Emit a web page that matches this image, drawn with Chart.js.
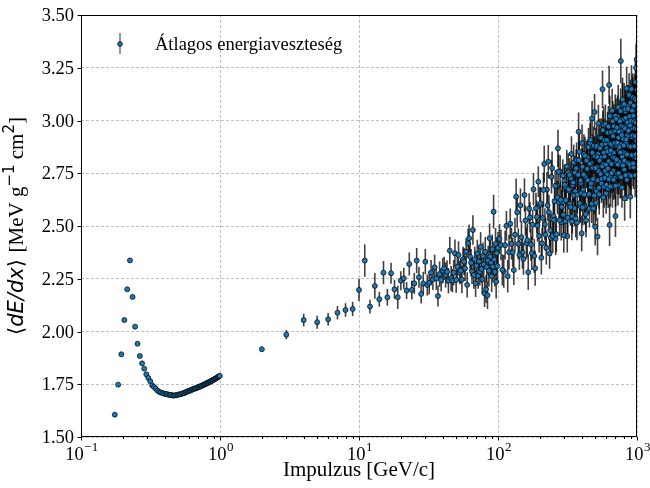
<!DOCTYPE html>
<html>
<head>
<meta charset="utf-8">
<script src="https://cdn.jsdelivr.net/npm/chart.js"></script>
<style>
    html, body { margin: 0; padding: 0; background: #fff; }
    #wrap { width: 650px; height: 488px; }
</style>
</head>
<body>
<div id="wrap"><canvas id="chart" width="650" height="488"></canvas></div>
<script>
// low momentum: 0.175 .. 0.995 GeV/c
const lowMomentum = [
    0.175,0.185,0.195,0.205,0.215,0.225,0.235,0.245,0.255,0.265,
    0.275,0.285,0.295,0.305,0.315,0.325,0.335,0.345,0.355,0.365,
    0.375,0.385,0.395,0.405,0.415,0.425,0.435,0.445,0.455,0.465,
    0.475,0.485,0.495,0.505,0.515,0.525,0.535,0.545,0.555,0.565,
    0.575,0.585,0.595,0.605,0.615,0.625,0.635,0.645,0.655,0.665,
    0.675,0.685,0.695,0.705,0.715,0.725,0.735,0.745,0.755,0.765,
    0.775,0.785,0.795,0.805,0.815,0.825,0.835,0.845,0.855,0.865,
    0.875,0.885,0.895,0.905,0.915,0.925,0.935,0.945,0.955,0.965,
    0.975,0.985,0.995
];
const lowLoss = [
    1.606,1.748,1.892,2.054,2.200,2.337,2.164,2.023,1.942,1.884,
    1.849,1.824,1.797,1.780,1.764,1.745,1.737,1.729,1.720,1.714,
    1.711,1.708,1.706,1.703,1.704,1.700,1.699,1.700,1.697,1.696,
    1.698,1.698,1.700,1.701,1.703,1.703,1.706,1.708,1.708,1.712,
    1.714,1.716,1.718,1.720,1.720,1.724,1.726,1.727,1.729,1.731,
    1.731,1.734,1.736,1.738,1.738,1.741,1.743,1.743,1.746,1.748,
    1.750,1.750,1.753,1.755,1.757,1.757,1.760,1.762,1.765,1.764,
    1.767,1.770,1.770,1.773,1.775,1.777,1.777,1.780,1.782,1.784,
    1.786,1.788,1.790
];
const lowErr = [
    .004,.004,.005,.005,.006,.006,.006,.005,.005,.005,
    .004,.004,.004,.004,.004,.004,.004,.004,.004,.004,
    .004,.004,.004,.004,.004,.004,.004,.004,.004,.004,
    .004,.004,.004,.004,.004,.004,.004,.004,.005,.005,
    .005,.005,.005,.005,.005,.005,.005,.005,.005,.005,
    .005,.005,.005,.005,.005,.005,.005,.005,.005,.005,
    .005,.005,.005,.006,.006,.006,.006,.006,.006,.006,
    .006,.006,.006,.006,.006,.006,.006,.006,.006,.006,
    .006,.006,.006
];

// 2 .. 100 GeV/c
const midMomentum = [
    2,3,4,5,6,7,8,9,
    10,11,12,13,14,15,16,17,18,19,
    20,21,22,23,24,25,26,27,28,29,
    30,31,32,33,34,35,36,37,38,39,
    40,41,42,43,44,45,46,47,48,49,
    50,51,52,53,54,55,56,57,58,59,
    60,61,62,63,64,65,66,67,68,69,
    70,71,72,73,74,75,76,77,78,79,
    80,81,82,83,84,85,86,87,88,89,
    90,91,92,93,94,95,96,97,98,99,
    100
];
const midLoss = [
    1.916,1.985,2.054,2.044,2.058,2.089,2.102,2.107,
    2.197,2.336,2.118,2.216,2.153,2.279,2.162,2.276,2.200,2.162,
    2.241,2.252,2.194,2.320,2.197,2.228,2.336,2.257,2.178,2.228,
    2.331,2.220,2.231,2.279,2.247,2.304,2.252,2.168,2.272,2.244,
    2.288,2.299,2.268,2.283,2.241,2.383,2.252,2.241,2.279,2.371,
    2.244,2.307,2.363,2.279,2.288,2.246,2.342,2.331,2.299,2.378,
    2.221,2.418,2.442,2.355,2.326,2.285,2.481,2.268,2.342,2.228,
    2.311,2.370,2.263,2.332,2.283,2.401,2.296,2.248,2.357,2.318,
    2.181,2.378,2.200,2.305,2.172,2.336,2.288,2.442,2.355,2.326,
    2.262,2.390,2.307,2.568,2.341,2.283,2.415,2.236,2.372,2.310,
    2.396
];
const midErr = [
    .012,.022,.030,.031,.030,.032,.032,.034,
    .053,.077,.033,.061,.035,.055,.040,.050,.045,.055,
    .045,.050,.040,.055,.045,.050,.060,.050,.045,.055,
    .060,.050,.055,.060,.050,.060,.055,.050,.060,.055,
    .060,.055,.060,.055,.060,.065,.060,.055,.060,.065,
    .060,.060,.065,.055,.060,.065,.060,.065,.060,.065,
    .060,.070,.065,.070,.065,.060,.070,.065,.060,.065,
    .070,.065,.060,.070,.065,.070,.065,.070,.065,.070,
    .065,.070,.065,.070,.065,.070,.075,.070,.075,.070,
    .075,.070,.075,.080,.075,.070,.075,.080,.075,.080,
    .075
];

// 105 .. 1000 GeV/c
const highMomentum = [
    105,110,115,120,125,130,135,140,145,150,
    155,160,165,170,175,180,185,190,195,200,
    205,210,215,220,225,230,235,240,245,250,
    255,260,265,270,275,280,285,290,295,300,
    305,310,315,320,325,330,335,340,345,350,
    355,360,365,370,375,380,385,390,395,400,
    405,410,415,420,425,430,435,440,445,450,
    455,460,465,470,475,480,485,490,495,500,
    505,510,515,520,525,530,535,540,545,550,
    555,560,565,570,575,580,585,590,595,600,
    605,610,615,620,625,630,635,640,645,650,
    655,660,665,670,675,680,685,690,695,700,
    705,710,715,720,725,730,735,740,745,750,
    755,760,765,770,775,780,785,790,795,800,
    805,810,815,820,825,830,835,840,845,850,
    855,860,865,870,875,880,885,890,895,900,
    905,910,915,920,925,930,935,940,945,950,
    955,960,965,970,975,980,985,990,995,1000
];
const highLoss = [
    2.410,2.285,2.501,2.376,2.416,2.291,2.639,2.415,2.598,2.374,
    2.647,2.419,2.281,2.541,2.371,2.674,2.300,2.543,2.710,2.599,
    2.350,2.538,2.794,2.459,2.673,2.805,2.370,2.444,2.775,2.547,
    2.617,2.440,2.692,2.868,2.611,2.759,2.517,2.613,2.553,2.714,
    2.522,2.682,2.452,2.754,2.667,2.605,2.726,2.521,2.694,2.801,
    2.584,2.665,2.773,2.516,2.741,2.947,2.852,2.595,2.703,2.465,
    2.781,2.671,2.842,2.592,2.735,2.527,2.768,2.826,2.647,2.719,
    2.582,2.892,2.685,2.799,3.010,2.776,2.583,2.837,3.040,2.497,
    2.873,2.665,2.780,2.450,2.841,2.759,2.650,2.918,2.725,2.825,
    2.702,2.886,3.148,2.793,2.978,2.686,2.829,2.761,2.890,2.654,
    2.867,2.743,2.942,2.678,2.807,3.168,2.505,2.842,2.733,2.945,
    2.794,2.880,2.687,2.997,2.762,2.848,2.949,2.727,2.884,2.547,
    2.952,2.804,2.881,2.748,3.020,2.692,2.919,2.861,2.803,2.955,
    2.732,3.004,3.282,2.888,2.950,2.682,3.074,2.851,2.913,2.795,
    3.007,2.768,2.631,2.846,3.043,2.744,2.896,2.972,2.719,2.930,
    2.842,3.068,2.800,3.011,2.743,2.924,2.971,2.837,2.639,2.780,
    2.962,2.738,3.010,2.921,2.833,3.104,2.881,3.047,2.779,3.005,
    2.827,2.963,3.070,2.741,2.998,2.909,3.250,2.822,3.290,2.960
];
const highErr = [
    .072,.078,.070,.082,.075,.071,.086,.074,.080,.076,
    .079,.074,.084,.072,.080,.076,.083,.078,.073,.085,
    .080,.075,.087,.078,.083,.079,.073,.085,.078,.081,
    .082,.078,.075,.088,.080,.076,.086,.079,.083,.078,
    .081,.085,.078,.090,.077,.084,.079,.088,.083,.085,
    .086,.080,.089,.083,.078,.091,.084,.081,.088,.085,
    .088,.081,.093,.085,.090,.080,.088,.084,.091,.086,
    .089,.094,.085,.090,.083,.095,.088,.091,.086,.090,
    .091,.086,.094,.089,.093,.085,.096,.090,.094,.090,
    .093,.098,.089,.094,.088,.099,.091,.095,.093,.096,
    .094,.090,.099,.093,.096,.091,.100,.095,.098,.093,
    .096,.093,.100,.095,.099,.094,.101,.098,.095,.099,
    .098,.094,.103,.096,.100,.095,.104,.099,.096,.101,
    .100,.096,.105,.098,.103,.096,.106,.101,.099,.103,
    .101,.098,.106,.100,.104,.099,.108,.103,.100,.105,
    .104,.100,.109,.101,.106,.100,.110,.105,.103,.108,
    .105,.101,.110,.104,.108,.103,.111,.106,.104,.109,
    .108,.104,.113,.105,.110,.104,.114,.109,.106,.111
];

// 102.5 .. 997.5 GeV/c (bins in between)
const highMomentumB = [
    102.5,107.5,112.5,117.5,122.5,127.5,132.5,137.5,142.5,147.5,
    152.5,157.5,162.5,167.5,172.5,177.5,182.5,187.5,192.5,197.5,
    202.5,207.5,212.5,217.5,222.5,227.5,232.5,237.5,242.5,247.5,
    252.5,257.5,262.5,267.5,272.5,277.5,282.5,287.5,292.5,297.5,
    302.5,307.5,312.5,317.5,322.5,327.5,332.5,337.5,342.5,347.5,
    352.5,357.5,362.5,367.5,372.5,377.5,382.5,387.5,392.5,397.5,
    402.5,407.5,412.5,417.5,422.5,427.5,432.5,437.5,442.5,447.5,
    452.5,457.5,462.5,467.5,472.5,477.5,482.5,487.5,492.5,497.5,
    502.5,507.5,512.5,517.5,522.5,527.5,532.5,537.5,542.5,547.5,
    552.5,557.5,562.5,567.5,572.5,577.5,582.5,587.5,592.5,597.5,
    602.5,607.5,612.5,617.5,622.5,627.5,632.5,637.5,642.5,647.5,
    652.5,657.5,662.5,667.5,672.5,677.5,682.5,687.5,692.5,697.5,
    702.5,707.5,712.5,717.5,722.5,727.5,732.5,737.5,742.5,747.5,
    752.5,757.5,762.5,767.5,772.5,777.5,782.5,787.5,792.5,797.5,
    802.5,807.5,812.5,817.5,822.5,827.5,832.5,837.5,842.5,847.5,
    852.5,857.5,862.5,867.5,872.5,877.5,882.5,887.5,892.5,897.5,
    902.5,907.5,912.5,917.5,922.5,927.5,932.5,937.5,942.5,947.5,
    952.5,957.5,962.5,967.5,972.5,977.5,982.5,987.5,992.5,997.5
];
const highLossB = [
    2.439,2.292,2.409,2.262,2.511,2.375,2.459,2.565,2.363,2.447,
    2.344,2.526,2.433,2.582,2.412,2.506,2.358,2.584,2.502,2.453,
    2.607,2.418,2.671,2.508,2.397,2.598,2.565,2.480,2.733,2.453,
    2.529,2.690,2.461,2.635,2.757,2.528,2.624,2.590,2.738,2.457,
    2.696,2.622,2.782,2.539,2.673,2.742,2.590,2.841,2.546,2.706,
    2.645,2.753,2.536,2.813,2.648,2.743,2.812,2.608,2.716,2.655,
    2.893,2.588,2.744,2.649,2.833,2.556,2.810,2.771,2.717,2.874,
    2.652,2.795,2.909,2.702,2.606,2.847,2.723,2.880,2.644,2.829,
    2.775,2.610,2.879,2.826,2.717,2.986,2.681,2.810,2.869,2.746,
    2.917,2.724,2.783,2.954,2.635,2.848,2.907,2.728,2.983,2.790,
    2.695,2.908,2.854,2.773,2.971,2.722,2.892,3.021,2.687,2.858,
    2.888,2.751,3.047,2.826,2.926,2.719,2.973,2.822,2.894,3.023,
    2.691,3.008,2.815,2.967,2.894,2.791,3.063,2.750,2.947,2.874,
    2.996,2.848,3.045,2.732,2.974,2.931,2.828,3.100,2.787,2.969,
    2.881,3.078,2.810,2.962,3.054,2.741,3.013,2.910,3.152,2.839,
    2.991,2.798,3.055,2.952,2.879,3.121,2.793,3.020,2.977,3.084,
    2.876,2.998,3.149,2.836,3.047,2.929,3.110,2.797,3.023,3.070,
    2.996,2.878,3.104,2.926,3.182,2.839,2.990,3.096,2.903,3.145
];
const highErrB = [
    .070,.074,.068,.077,.072,.069,.080,.073,.071,.076,
    .075,.071,.079,.073,.077,.072,.080,.074,.076,.078,
    .078,.074,.082,.076,.080,.075,.083,.077,.079,.081,
    .080,.076,.085,.079,.083,.077,.086,.081,.078,.084,
    .082,.087,.079,.088,.083,.080,.089,.084,.081,.086,
    .085,.081,.090,.083,.088,.082,.091,.086,.084,.087,
    .088,.084,.093,.086,.090,.085,.094,.089,.087,.091,
    .090,.086,.095,.088,.092,.087,.096,.091,.089,.093,
    .092,.088,.097,.090,.094,.089,.098,.093,.091,.095,
    .094,.090,.099,.092,.096,.091,.100,.095,.093,.097,
    .096,.092,.101,.094,.098,.093,.102,.097,.095,.099,
    .098,.094,.103,.096,.100,.095,.104,.099,.097,.101,
    .100,.096,.105,.098,.102,.097,.106,.101,.099,.103,
    .102,.098,.107,.100,.104,.099,.108,.103,.101,.105,
    .104,.100,.109,.102,.106,.101,.110,.105,.103,.107,
    .106,.102,.111,.104,.108,.103,.112,.107,.105,.109,
    .108,.104,.113,.106,.110,.105,.114,.109,.107,.111,
    .110,.106,.115,.108,.112,.107,.116,.111,.109,.113
];

// axis ticks
const xDecades = [0.1, 1, 10, 100, 1000];
const xExponents = ['\u22121', '0', '1', '2', '3'];
const yTicks = [1.5, 1.75, 2.0, 2.25, 2.5, 2.75, 3.0, 3.25, 3.5];
const yTickLabels = ['1.50', '1.75', '2.00', '2.25', '2.50', '2.75', '3.00', '3.25', '3.50'];

const seriesLabel = 'Átlagos energiaveszteség';
const xTitle = 'Impulzus [GeV/c]';

const momentum = lowMomentum.concat(midMomentum, highMomentum, highMomentumB);
const loss = lowLoss.concat(midLoss, highLoss, highLossB);
const err = lowErr.concat(midErr, highErr, highErrB);
const points = momentum.map((p, i) => ({x: p, y: loss[i], err: err[i]}));

const SERIF = '"Liberation Serif", "DejaVu Serif", serif';
const SANS = '"DejaVu Sans", sans-serif';
const dotColor = '#1f77b4';
const barColor = 'rgba(0,0,0,0.75)';

// vertical error bars, drawn under the markers
const errorBars = {
    id: 'errorBars',
    beforeDatasetsDraw(chart) {
        const {ctx, chartArea: a, scales: {x, y}} = chart;
        ctx.save();
        ctx.beginPath();
        ctx.rect(a.left, a.top, a.right - a.left, a.bottom - a.top);
        ctx.clip();
        ctx.strokeStyle = barColor;
        ctx.lineWidth = 1.6;
        chart.data.datasets[0].data.forEach(pt => {
            const px = x.getPixelForValue(pt.x);
            ctx.beginPath();
            ctx.moveTo(px, y.getPixelForValue(pt.y - pt.err));
            ctx.lineTo(px, y.getPixelForValue(pt.y + pt.err));
            ctx.stroke();
        });
        ctx.restore();
    }
};

// spines, ticks, tick labels, axis titles, legend
const decorations = {
    id: 'decorations',
    afterDraw(chart) {
        const {ctx, chartArea: a, scales: {x, y}} = chart;
        ctx.save();
        ctx.strokeStyle = '#000';
        ctx.fillStyle = '#000';
        ctx.lineWidth = 1;

        // y ticks + labels
        ctx.font = '18.5px ' + SERIF;
        ctx.textAlign = 'right';
        ctx.textBaseline = 'middle';
        yTicks.forEach((v, i) => {
            const py = Math.round(y.getPixelForValue(v)) + 0.5;
            ctx.beginPath();
            ctx.moveTo(a.left - 3.5, py);
            ctx.lineTo(a.left, py);
            ctx.stroke();
            ctx.fillText(yTickLabels[i], a.left - 7, py + 1);
        });

        // x minor ticks
        xDecades.slice(0, -1).forEach(d => {
            for (let k = 2; k <= 9; k++) {
                const px = Math.round(x.getPixelForValue(d * k)) + 0.5;
                ctx.beginPath();
                ctx.moveTo(px, a.bottom);
                ctx.lineTo(px, a.bottom + 2);
                ctx.stroke();
            }
        });

        // x major ticks + labels 10^n
        ctx.textAlign = 'left';
        ctx.textBaseline = 'alphabetic';
        xDecades.forEach((d, i) => {
            const px = Math.round(x.getPixelForValue(d)) + 0.5;
            ctx.beginPath();
            ctx.moveTo(px, a.bottom);
            ctx.lineTo(px, a.bottom + 3.5);
            ctx.stroke();
            ctx.font = '18.5px ' + SERIF;
            const bw = ctx.measureText('10').width;
            ctx.font = '13px ' + SERIF;
            const ew = ctx.measureText(xExponents[i]).width;
            const x0 = px - (bw + ew) / 2;
            ctx.font = '18.5px ' + SERIF;
            ctx.fillText('10', x0, a.bottom + 23);
            ctx.font = '13px ' + SERIF;
            ctx.fillText(xExponents[i], x0 + bw + 0.5, a.bottom + 14);
        });

        // x title
        ctx.font = '21px ' + SERIF;
        ctx.textAlign = 'center';
        ctx.fillText(xTitle, (a.left + a.right) / 2, 476);

        // y title: <dE/dx> [MeV g^-1 cm^2]
        const parts = [
            {t: '\u27e8', f: '21px ' + SANS, dy: 0},
            {t: 'dE/dx', f: 'italic 21px ' + SANS, dy: 0},
            {t: '\u27e9 ', f: '21px ' + SANS, dy: 0},
            {t: '[MeV g', f: '21px ' + SERIF, dy: 0},
            {t: '\u22121', f: '15px ' + SANS, dy: -9},
            {t: ' cm', f: '21px ' + SERIF, dy: 0},
            {t: '2', f: '15px ' + SANS, dy: -9},
            {t: ']', f: '21px ' + SERIF, dy: 0}
        ];
        let total = 0;
        parts.forEach(p => { ctx.font = p.f; p.w = ctx.measureText(p.t).width; total += p.w; });
        ctx.save();
        ctx.translate(23, (a.top + a.bottom) / 2);
        ctx.rotate(-Math.PI / 2);
        ctx.textAlign = 'left';
        let cx = -total / 2;
        parts.forEach(p => {
            ctx.font = p.f;
            ctx.fillText(p.t, cx, p.dy);
            cx += p.w;
        });
        ctx.restore();

        // legend
        const lx = 120, ly = 44;
        ctx.strokeStyle = 'rgba(0,0,0,0.55)';
        ctx.lineWidth = 1.5;
        ctx.beginPath();
        ctx.moveTo(lx, ly - 11);
        ctx.lineTo(lx, ly + 10);
        ctx.stroke();
        ctx.beginPath();
        ctx.arc(lx, ly, 2.4, 0, Math.PI * 2);
        ctx.fillStyle = dotColor;
        ctx.fill();
        ctx.strokeStyle = '#000';
        ctx.lineWidth = 0.7;
        ctx.stroke();
        ctx.fillStyle = '#000';
        ctx.font = '18.5px ' + SERIF;
        ctx.textAlign = 'left';
        ctx.textBaseline = 'middle';
        ctx.fillText(seriesLabel, 155, ly + 1);

        // spines
        ctx.strokeStyle = '#000';
        ctx.lineWidth = 1;
        ctx.strokeRect(a.left + 0.5, a.top + 0.5, a.right - a.left - 1, a.bottom - a.top - 1);
        ctx.restore();
    }
};

const chart = new Chart(document.getElementById('chart').getContext('2d'), {
    type: 'scatter',
    data: {
        datasets: [{
            label: seriesLabel,
            data: points,
            backgroundColor: dotColor,
            borderColor: '#000',
            borderWidth: 0.7,
            pointRadius: 2.5,
            pointHoverRadius: 2.5,
            clip: 0
        }]
    },
    options: {
        responsive: false,
        animation: false,
        events: [],
        layout: {padding: {left: 0, right: 13, top: 15, bottom: 0}},
        plugins: {legend: {display: false}, tooltip: {enabled: false}},
        scales: {
            x: {
                type: 'logarithmic',
                min: 0.1,
                max: 1000,
                afterBuildTicks: s => { s.ticks = xDecades.map(v => ({value: v})); },
                afterFit: s => { s.height = 51; },
                ticks: {display: false},
                grid: {color: '#b0b0b0', lineWidth: 0.8, drawTicks: false},
                border: {display: false, dash: [3, 2]}
            },
            y: {
                min: 1.5,
                max: 3.5,
                afterBuildTicks: s => { s.ticks = yTicks.map(v => ({value: v})); },
                afterFit: s => { s.width = 81; },
                ticks: {display: false},
                grid: {color: '#b0b0b0', lineWidth: 0.8, drawTicks: false},
                border: {display: false, dash: [3, 2]}
            }
        }
    },
    plugins: [errorBars, decorations]
});
</script>
</body>
</html>
